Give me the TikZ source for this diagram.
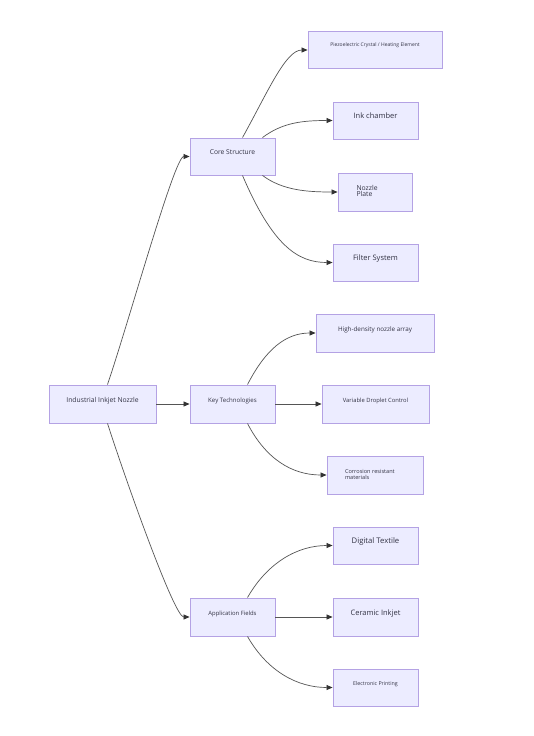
\documentclass[tikz,border=0pt]{standalone}
\usepackage{fontspec}
\setmainfont{Open Sans}
\usetikzlibrary{arrows.meta,calc}
\definecolor{boxfill}{HTML}{ECECFF}
\definecolor{boxline}{HTML}{B4A2E4}
\definecolor{edge}{HTML}{555555}
\definecolor{txt}{HTML}{333344}
\newcommand\fs[1]{\fontsize{#1}{#1}\selectfont}
\newcommand\tx[3]{\raisebox{#1}[0pt][0pt]{\fs{#2}#3}}
\tikzset{
  box/.style={draw=boxline, fill=boxfill, line width=0.9pt, inner sep=0pt, anchor=center, text=txt},
  conn/.style={draw=edge, line width=0.7pt, -{Triangle[length=6pt,width=5pt,color=black!80]}},
}
\begin{document}
\begin{tikzpicture}[x=1pt,y=-1pt]
\useasboundingbox (0,0) rectangle (533,736);
\fill[white] (0,0) rectangle (533,736);
% nodes
\node[box, minimum width=107, minimum height=38] (root) at (102.5,404) {\tx{1.6pt}{6.8}{Industrial Inkjet Nozzle}};
\node[box, minimum width=85, minimum height=37] (core) at (232.5,156.5) {\tx{1.6pt}{6.7}{Core Structure}};
\node[box, minimum width=85, minimum height=38] (key) at (232.5,404) {\tx{1.6pt}{6.1}{Key Technologies}};
\node[box, minimum width=85, minimum height=38] (app) at (232.5,617) {\tx{1.6pt}{5.9}{Application Fields}};
\node[box, minimum width=134, minimum height=37] (piezo) at (375,50) {\tx{4pt}{5.0}{Piezoelectric Crystal / Heating Element}};
\node[box, minimum width=85, minimum height=37] (ink) at (375.5,120.5) {\tx{1.6pt}{7.5}{Ink chamber}};
\node[box, minimum width=74, minimum height=38] (plate) at (375,192) {\makebox[37pt][l]{\raisebox{1.5pt}{\fs{6.8}\begin{tabular}{@{}l@{}}Nozzle\\[-0.5pt]Plate\end{tabular}}}};
\node[box, minimum width=85, minimum height=37] (filter) at (375.5,262.5) {\tx{1.6pt}{7.5}{Filter System}};
\node[box, minimum width=118, minimum height=38] (dense) at (375,333) {\tx{1.6pt}{6.3}{High-density nozzle array}};
\node[box, minimum width=107, minimum height=38] (drop) at (375.5,404) {\tx{1.6pt}{5.8}{Variable Droplet Control}};
\node[box, minimum width=96, minimum height=38] (corr) at (375,475) {\makebox[60pt][l]{\raisebox{1.5pt}{\fs{5.6}\begin{tabular}{@{}l@{}}Corrosion resistant\\[0.5pt]materials\end{tabular}}}};
\node[box, minimum width=85, minimum height=37] (text) at (375.5,545.5) {\tx{1.6pt}{7.7}{Digital Textile}};
\node[box, minimum width=85, minimum height=38] (cer) at (375.5,617) {\tx{1.6pt}{7.5}{Ceramic Inkjet}};
\node[box, minimum width=85, minimum height=37] (elec) at (375.5,687.5) {\tx{1.6pt}{5.3}{Electronic Printing}};
% edges
\draw[conn] ([xshift=5pt]root.north) .. controls ($([xshift=5pt]root.north)+(22,-65)$) and ($(core.west)+(-15,0)$) .. (core.west);
\draw[conn] (root.east) -- (key.west);
\draw[conn] ([xshift=5pt]root.south) .. controls ($([xshift=5pt]root.south)+(20,62)$) and ($(app.west)+(-15,0)$) .. (app.west);
\draw[conn] ([xshift=10pt]core.north) .. controls ($([xshift=10pt]core.north)+(25,-45)$) and ($(piezo.west)+(-22,0)$) .. (piezo.west);
\draw[conn] ([xshift=30pt]core.north) .. controls ($([xshift=30pt]core.north)+(20,-15)$) and ($(ink.west)+(-30,0)$) .. (ink.west);
\draw[conn] ([xshift=30pt]core.south) .. controls ($([xshift=30pt]core.south)+(20,15)$) and ($(plate.west)+(-30,0)$) .. (plate.west);
\draw[conn] ([xshift=10pt]core.south) .. controls ($([xshift=10pt]core.south)+(30,70)$) and ($(filter.west)+(-35,0)$) .. (filter.west);
\draw[conn] ([xshift=15pt]key.north) .. controls ($([xshift=15pt]key.north)+(18,-35)$) and ($(dense.west)+(-30,0)$) .. (dense.west);
\draw[conn] (key.east) -- (drop.west);
\draw[conn] ([xshift=15pt]key.south) .. controls ($([xshift=15pt]key.south)+(18,35)$) and ($(corr.west)+(-35,0)$) .. (corr.west);
\draw[conn] ([xshift=15pt]app.north) .. controls ($([xshift=15pt]app.north)+(20,-35)$) and ($(text.west)+(-35,0)$) .. (text.west);
\draw[conn] (app.east) -- (cer.west);
\draw[conn] ([xshift=15pt]app.south) .. controls ($([xshift=15pt]app.south)+(20,35)$) and ($(elec.west)+(-35,0)$) .. (elec.west);
\end{tikzpicture}
\end{document}
